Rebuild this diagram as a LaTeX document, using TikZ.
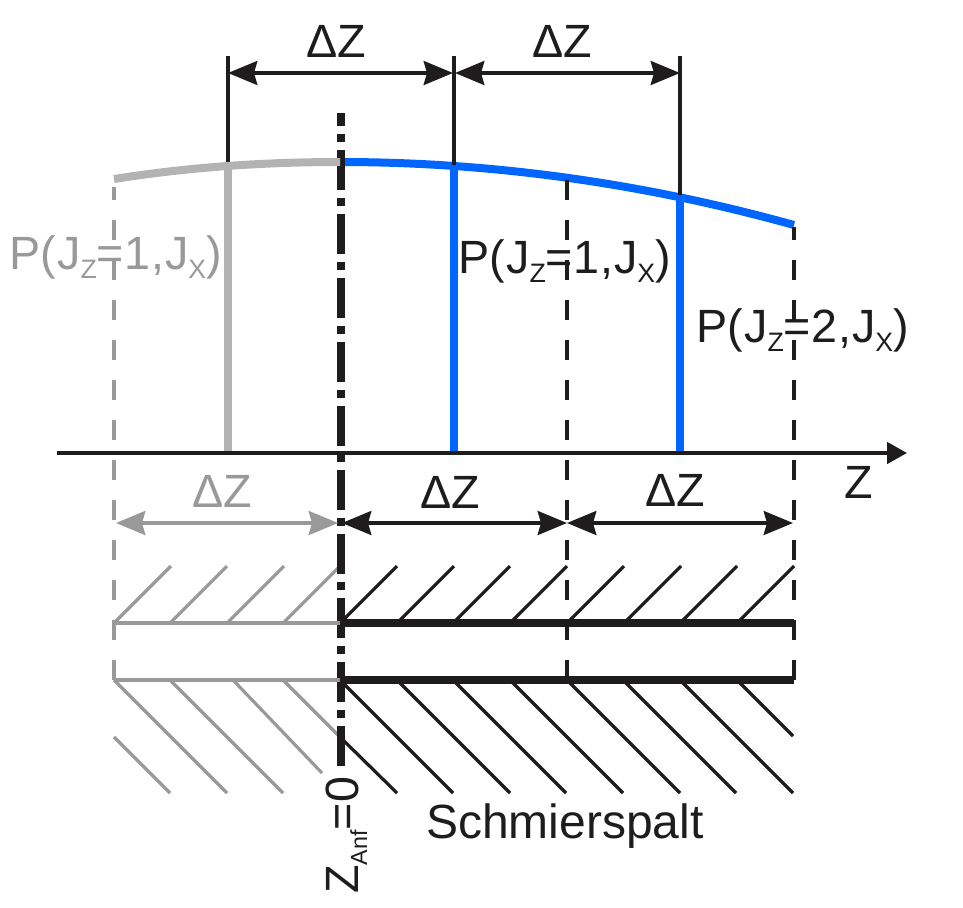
\documentclass[tikz,border=0pt]{standalone}
\usepackage{fontspec}
\setmainfont{Liberation Sans}
\newfontfamily\spacedfont[LetterSpace=1.5]{Liberation Sans}
\usetikzlibrary{arrows.meta}
\definecolor{ink}{HTML}{1E1C1C}
\definecolor{palegray}{HTML}{999999}
\definecolor{curvegray}{HTML}{B3B3B3}
\definecolor{pressblue}{HTML}{0066FF}
\newcommand{\sbs}[1]{\raisebox{-6.75pt}{\fontsize{20}{20}\selectfont #1}}
\newcommand{\sbsanf}[1]{\raisebox{-6.75pt}{\fontsize{17.5}{20}\selectfont #1}}
\newcommand{\plabel}[1]{{\spacedfont P(J\sbs{Z}=#1,J\sbs{X})}}
\tikzset{
  x=0.75pt,y=-0.75pt,
  lab/.style={inner sep=0pt,anchor=base,font=\fontsize{35}{40}\selectfont},
  dimarrow/.style={line width=2.4pt,{Stealth[length=22pt,width=18pt,inset=2.5pt]}-{Stealth[length=22pt,width=18pt,inset=2.5pt]}},
  extline/.style={line width=2.4pt,ink},
  dashline/.style={line width=2.8pt,dash pattern=on 15pt off 15pt},
  centerline/.style={line width=6pt,ink,dash pattern=on 30pt off 6pt on 6pt off 6pt,dash phase=20.25pt},
  hatch/.style={line width=2.4pt},
  wall/.style={line width=5.6pt,ink},
  greywall/.style={line width=2.8pt,palegray},
  bluebar/.style={line width=6pt,pressblue},
  greybar/.style={line width=6pt,curvegray},
}
\begin{document}
\begin{tikzpicture}
\useasboundingbox (0,0) rectangle (963,907);
% coordinates
\coordinate (a1t) at (228,56);  \coordinate (a1b) at (228,163);
\coordinate (a2t) at (454,56);  \coordinate (a2b) at (454,165);
\coordinate (a3t) at (680,56);  \coordinate (a3b) at (680,195);
\coordinate (d1L) at (228,73);  \coordinate (d1R) at (453,73);
\coordinate (d2L) at (455,73);  \coordinate (d2R) at (680,73);
\coordinate (axL) at (57,453);  \coordinate (axR) at (907,453);
\coordinate (g0)  at (228,165); \coordinate (g1)  at (228,453);
\coordinate (b0)  at (454,165); \coordinate (b1)  at (454,453);
\coordinate (c0)  at (680,197); \coordinate (c1)  at (680,453);
\coordinate (cs)  at (340,162); \coordinate (ce)  at (794,225);
\coordinate (gs)  at (114,179);
\coordinate (cl0) at (341,113); \coordinate (cl1) at (341,766);
\coordinate (ds0) at (567,180); \coordinate (ds1) at (567,680);
\coordinate (de0) at (794,227); \coordinate (de1) at (794,680);
\coordinate (dg0) at (114,187); \coordinate (dg1) at (114,680);
\coordinate (e1L) at (116,523); \coordinate (e1R) at (338,523);
\coordinate (e2L) at (342,523); \coordinate (e2R) at (567,523);
\coordinate (e3L) at (567,523); \coordinate (e3R) at (793,523);
\coordinate (w1L) at (114,623); \coordinate (w1M) at (340,623); \coordinate (w1R) at (794,623);
\coordinate (w2L) at (114,680); \coordinate (w2M) at (340,680); \coordinate (w2R) at (794,680);

% blue curve and bars
\draw[bluebar] (cs) .. controls (491.3,162) and (642.7,183) .. (ce);
\draw[bluebar] (b0) -- (b1);
\draw[bluebar] (c0) -- (c1);
\draw[greybar] (g0) -- (g1);

% extension lines
\draw[extline] (a1t) -- (a1b);
\draw[extline] (a2t) -- (a2b);
\draw[extline] (a3t) -- (a3b);

% dashed lines
\draw[dashline,ink] (ds0) -- (ds1);
\draw[dashline,ink,dash phase=5.25pt] (de0) -- (de1);
\draw[dashline,palegray,dash phase=5.25pt] (dg0) -- (dg1);

% hatching
\foreach \x in {114,170,227,283}
  \draw[hatch,palegray] (\x,623) -- (\x+57,566);
\foreach \x in {340,397,453,510,567,624,680,737}
  \draw[hatch,ink] (\x,623) -- (\x+57,566);
\draw[hatch,palegray] (114,737) -- (170,793);
\draw[hatch,palegray] (114,680) -- (227,793);
\draw[hatch,palegray] (170,680) -- (283,793);
\draw[hatch,palegray] (233,680) -- (322,773);
\draw[hatch,palegray] (283,680) -- (340,737);
\draw[hatch,ink] (340,737) -- (397,793);
\foreach \x in {340,397,453,510,567,623,680}
  \draw[hatch,ink] (\x,680) -- (\x+113,793);
\draw[hatch,ink] (737,680) -- (793,736);

% walls
\draw[wall] (w1M) -- (w1R);
\draw[wall] (w2M) -- (w2R);

% axis
\draw[line width=2.8pt,ink,-{Stealth[length=15pt,width=16pt,inset=0pt]}] (axL) -- (axR);

% centre line
\draw[centerline] (cl0) -- (cl1);

% grey parts over the centre line
\draw[greybar] (gs) .. controls (190,167) and (265,162) .. (cs);
\draw[greywall] (w1L) -- (w1M);
\draw[greywall] (w2L) -- (w2M);

% dimension arrows
\draw[dimarrow,ink] (d1L) -- (d1R);
\draw[dimarrow,ink] (d2L) -- (d2R);
\draw[dimarrow,palegray] (e1L) -- (e1R);
\draw[dimarrow,ink] (e2L) -- (e2R);
\draw[dimarrow,ink] (e3L) -- (e3R);

% labels
\node[lab,ink] (tdz1) at (336,57) {ΔZ};
\node[lab,ink] (tdz2) at (562,57) {ΔZ};
\node[lab,palegray] (ldz0) at (222,507) {ΔZ};
\node[lab,ink] (ldz1) at (450,508) {ΔZ};
\node[lab,ink] (ldz2) at (675,506) {ΔZ};
\node[lab,ink] (axz) at (859,498) {Z};
\node[lab,palegray] (p0) at (115.5,269) {\plabel{1}};
\node[lab,ink] (p1) at (564.5,273) {\plabel{1}};
\node[lab,ink] (p2) at (802.5,342) {\plabel{2}};
\node[lab,ink,font=\fontsize{36}{40}\selectfont] (spalt) at (565,838) {Schmierspalt};
\node[lab,ink,rotate=90,anchor=base west] (zanf) at (358,894) {Z\sbsanf{Anf}=0};
\end{tikzpicture}
\end{document}
